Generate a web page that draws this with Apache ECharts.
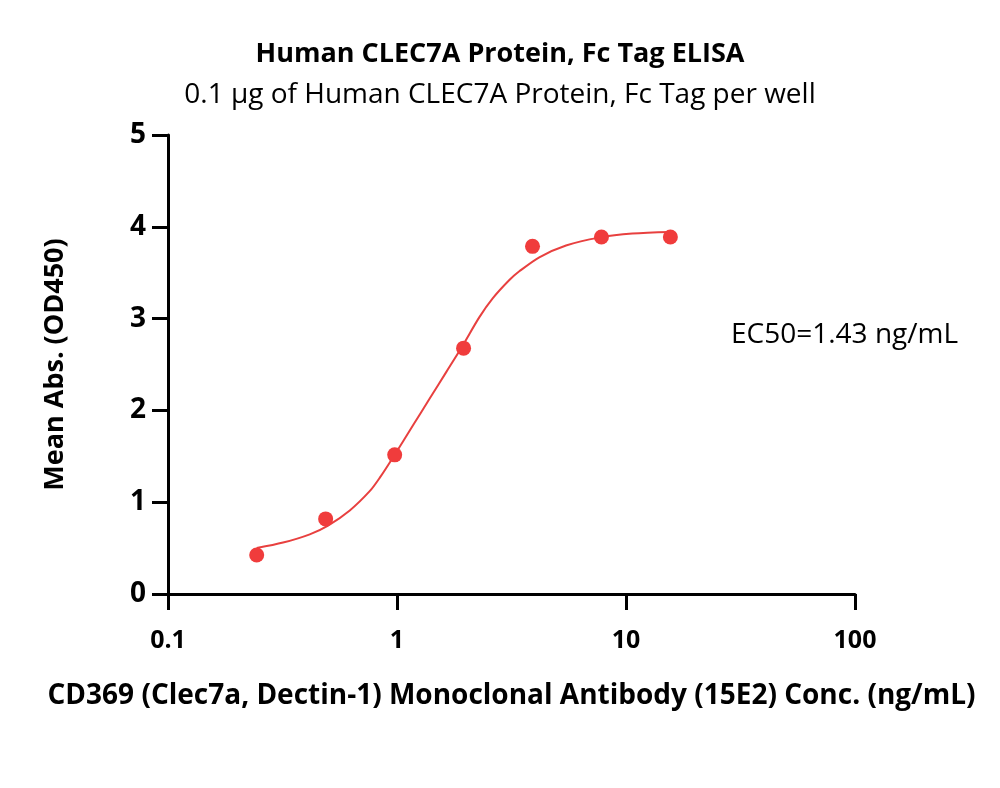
<!DOCTYPE html>
<html>
<head>
<meta charset="utf-8">
<script src="https://cdn.jsdelivr.net/npm/echarts@6/dist/echarts.min.js"></script>
<style>html,body{margin:0;padding:0;background:#fff}#c{width:1000px;height:788px}</style>
</head>
<body>
<div id="c"></div>
<script>
// Measured points
var concentrations = [0.244, 0.488, 0.977, 1.953, 3.906, 7.8125, 15.625];
var meanAbs = [0.425, 0.818, 1.516, 2.678, 3.787, 3.889, 3.889];
// Fitted curve
var curveX = [0.244, 0.318, 0.416, 0.500, 0.622, 0.760, 0.840, 0.976, 1.173, 1.387, 1.640, 1.937, 2.290, 2.617, 3.095, 3.421, 4.182, 5.47, 7.63, 10.66, 15.625];
var curveY = [0.500, 0.560, 0.650, 0.745, 0.910, 1.120, 1.265, 1.515, 1.835, 2.126, 2.417, 2.708, 3.016, 3.220, 3.420, 3.515, 3.668, 3.796, 3.882, 3.926, 3.943];
var yTicks = [0, 1, 2, 3, 4, 5];
var xTicks = [0.1, 1, 10, 100];
var titleText = 'Human CLEC7A Protein, Fc Tag ELISA';
var subtitleText = '0.1 \u00b5g of Human CLEC7A Protein, Fc Tag per well';
var xName = 'CD369 (Clec7a, Dectin-1) Monoclonal Antibody (15E2) Conc. (ng/mL)';
var yName = 'Mean Abs. (OD450)';
var ec50Text = 'EC50=1.43 ng/mL';

var FONT = '"Open Sans", "Noto Sans", sans-serif';
var chart = echarts.init(document.getElementById('c'));
var pts = concentrations.map(function (x, i) { return [x, meanAbs[i]]; });
var curve = curveX.map(function (x, i) { return [x, curveY[i]]; });
chart.setOption({
  animation: false,
  backgroundColor: '#fff',
  title: [
    { text: titleText, left: 'center', top: 36, textStyle: { fontFamily: FONT, fontSize: 27, fontWeight: 'bold', color: '#000' } },
    { text: subtitleText, left: 'center', top: 76, textStyle: { fontFamily: FONT, fontSize: 28, fontWeight: 'normal', color: '#000' } }
  ],
  graphic: [
    { type: 'text', left: 731, top: 321, style: { text: ec50Text, font: '28px ' + FONT, fill: '#000' } }
  ],
  grid: { left: 168, right: 145, top: 135, bottom: 194, containLabel: false },
  xAxis: {
    type: 'log', logBase: 10, min: 0.1, max: 100,
    name: xName, nameLocation: 'middle', nameGap: 88,
    nameTextStyle: { fontFamily: FONT, fontSize: 28, fontWeight: 'bold', color: '#000' },
    axisLine: { lineStyle: { color: '#000', width: 3 } },
    axisTick: { length: 16, lineStyle: { color: '#000', width: 3 } },
    minorTick: { show: false },
    splitLine: { show: false },
    axisLabel: { margin: 34, fontFamily: FONT, fontSize: 25, fontWeight: 'bold', color: '#000',
      formatter: function (v) { return String(v); } }
  },
  yAxis: {
    type: 'value', min: 0, max: 5, interval: 1,
    name: yName, nameLocation: 'middle', nameGap: 99, nameRotate: 90,
    nameTextStyle: { fontFamily: FONT, fontSize: 27, fontWeight: 'bold', color: '#000' },
    axisLine: { show: true, lineStyle: { color: '#000', width: 3 } },
    axisTick: { show: true, length: 16, lineStyle: { color: '#000', width: 3 } },
    splitLine: { show: false },
    axisLabel: { margin: 22, fontFamily: FONT, fontSize: 28, fontWeight: 'bold', color: '#000' }
  },
  series: [
    { type: 'line', data: curve, smooth: 0.3, showSymbol: false, symbol: 'none',
      lineStyle: { color: '#E8403F', width: 2 }, z: 2 },
    { type: 'scatter', data: pts, symbolSize: 15, itemStyle: { color: '#F03C3C', opacity: 1 }, z: 3 }
  ]
});
</script>
</body>
</html>
